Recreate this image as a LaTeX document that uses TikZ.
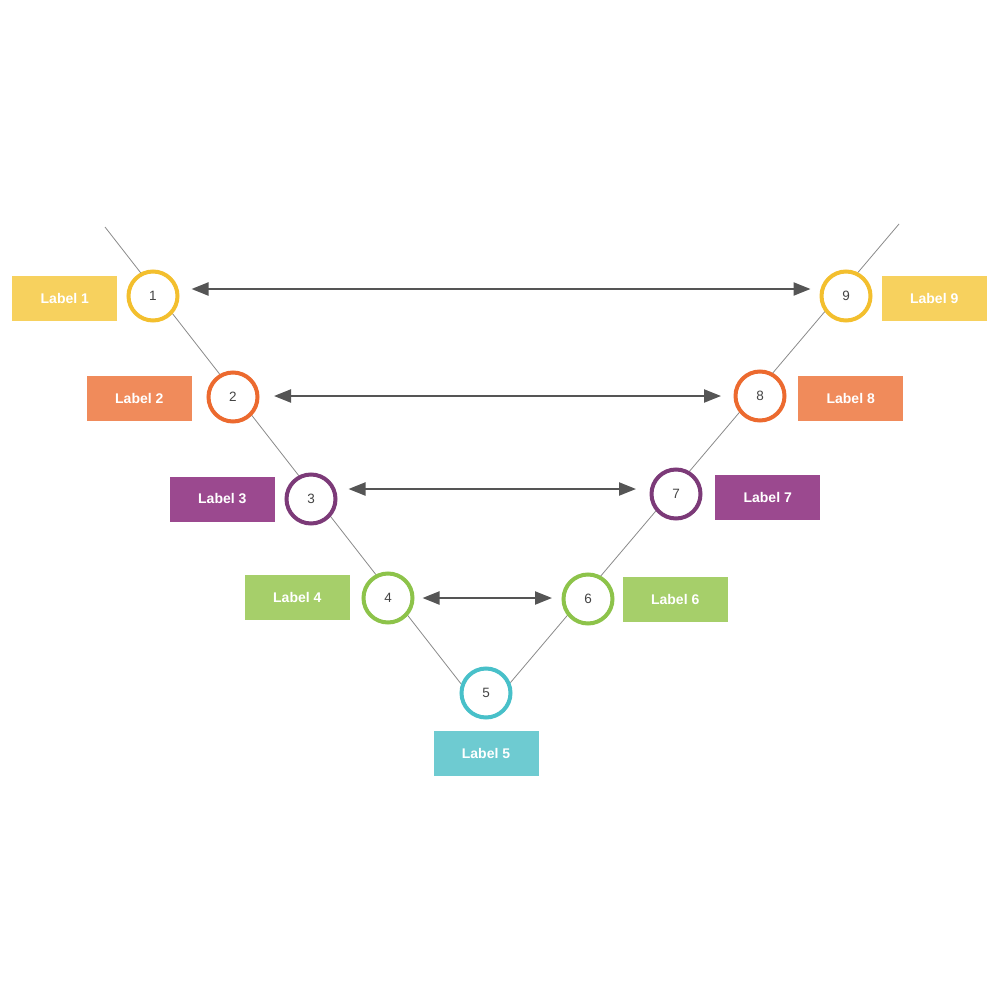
\documentclass[tikz,border=0pt]{standalone}
\usepackage{fontspec}
\setmainfont{Liberation Sans}
\usetikzlibrary{positioning,arrows.meta,backgrounds}
\definecolor{ringyellow}{HTML}{F3BF2E}
\definecolor{boxyellow}{HTML}{F7D15E}
\definecolor{ringorange}{HTML}{EC6A2F}
\definecolor{boxorange}{HTML}{F08B5B}
\definecolor{ringpurple}{HTML}{7C3A78}
\definecolor{boxpurple}{HTML}{9B498F}
\definecolor{ringgreen}{HTML}{8DC34A}
\definecolor{boxgreen}{HTML}{A6CF6A}
\definecolor{ringteal}{HTML}{48C0C9}
\definecolor{boxteal}{HTML}{6ECBD1}
\definecolor{numgray}{HTML}{444444}
\definecolor{arrowgray}{HTML}{555555}
\definecolor{vgray}{HTML}{8A8A8A}

\begin{document}
\begin{tikzpicture}[
  x=1pt, y=-1pt,
  stage/.style={circle, draw=#1, line width=4pt, fill=white,
                minimum size=49pt, inner sep=0pt,
                font=\fontsize{13.5}{15}\selectfont, text=numgray},
  tag/.style={fill=#1, minimum width=105pt, minimum height=45pt, inner sep=0pt,
              font=\fontsize{14}{16}\selectfont\bfseries, text=white},
  vline/.style={draw=vgray, line width=0.8pt},
  twoway/.style={{Triangle[length=17pt,width=13pt]}-{Triangle[length=17pt,width=13pt]},
                 line width=2.2pt, arrowgray}
]
  \useasboundingbox (0,0) rectangle (1000,1000);

  % stages
  \node[stage=ringyellow] (c1) at (153,296) {1};
  \node[stage=ringorange] (c2) at (233,397) {2};
  \node[stage=ringpurple] (c3) at (311,499) {3};
  \node[stage=ringgreen]  (c4) at (388,598) {4};
  \node[stage=ringteal]   (c5) at (486,693) {5};
  \node[stage=ringgreen]  (c6) at (588,599) {6};
  \node[stage=ringpurple] (c7) at (676,494) {7};
  \node[stage=ringorange] (c8) at (760,396) {8};
  \node[stage=ringyellow] (c9) at (846,296) {9};

  % labels
  \node[tag=boxyellow, left=9pt of c1, yshift=-2pt]    (l1) {Label 1};
  \node[tag=boxorange, left=14.5pt of c2, yshift=-1pt] (l2) {Label 2};
  \node[tag=boxpurple, left=9.5pt of c3]               (l3) {Label 3};
  \node[tag=boxgreen,  left=11.5pt of c4, yshift=1pt]  (l4) {Label 4};
  \node[tag=boxteal,   below=11.5pt of c5]             (l5) {Label 5};
  \node[tag=boxgreen,  right=8pt of c6]                (l6) {Label 6};
  \node[tag=boxpurple, right=12.5pt of c7, yshift=-3.5pt] (l7) {Label 7};
  \node[tag=boxorange, right=11.5pt of c8, yshift=-2.5pt] (l8) {Label 8};
  \node[tag=boxyellow, right=9pt of c9, yshift=-2pt]   (l9) {Label 9};

  % the V
  \coordinate (topL) at (105,227);
  \coordinate (topR) at (899,224);
  \begin{scope}[on background layer]
    \draw[vline] (topL) -- (c5.160);
    \draw[vline] (topR) -- (c5.23);
  \end{scope}

  % links across
  \draw[twoway] ([shift={(12,-7)}]c1.east) -- ([shift={(-9,-7)}]c9.west);
  \draw[twoway] ([shift={(14.5,-1)}]c2.east) -- ([shift={(-12.5,0)}]c8.west);
  \draw[twoway] ([shift={(11,-10)}]c3.east) -- ([shift={(-13.5,-5)}]c7.west);
  \draw[twoway] ([shift={(8,0)}]c4.east) -- ([shift={(-9.5,-1)}]c6.west);
\end{tikzpicture}
\end{document}
